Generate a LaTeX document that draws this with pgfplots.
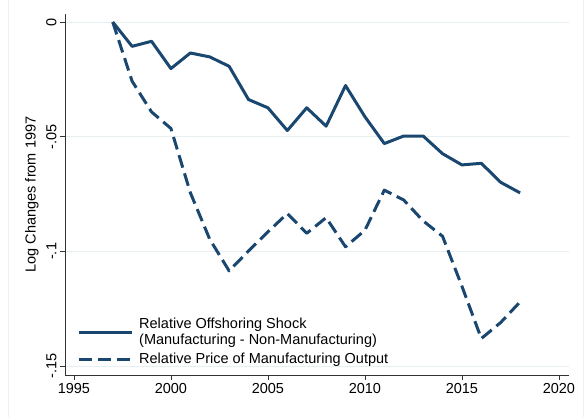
\documentclass[border=0pt]{standalone}
\usepackage{pgfplots}
\pgfplotsset{compat=1.18}
\usepackage{pgfplotstable}
\usepackage{fontspec}
\setmainfont{Liberation Sans}
\definecolor{navy}{RGB}{26,71,111}
\definecolor{gridc}{RGB}{232,239,241}
\pgfplotstableread{
year shock price
1997 0 0
1998 -0.0106 -0.0258
1999 -0.0084 -0.0392
2000 -0.0203 -0.0464
2001 -0.0135 -0.0744
2002 -0.0152 -0.0947
2003 -0.0193 -0.1085
2004 -0.0338 -0.0998
2005 -0.0374 -0.0915
2006 -0.0473 -0.0835
2007 -0.0374 -0.0921
2008 -0.0454 -0.0853
2009 -0.0277 -0.0980
2010 -0.0413 -0.0908
2011 -0.0530 -0.0733
2012 -0.0497 -0.0776
2013 -0.0497 -0.0867
2014 -0.0574 -0.0934
2015 -0.0623 -0.1152
2016 -0.0616 -0.1380
2017 -0.0699 -0.1310
2018 -0.0745 -0.1220
}\datatable
\begin{document}
\begin{tikzpicture}
\path[use as bounding box] (0pt,0pt) rectangle (585pt,417pt);
\draw[gray!12, line width=0.8pt] (8pt,0pt) -- (8pt,417pt);
\draw[gray!12, line width=0.8pt] (583pt,0pt) -- (583pt,417pt);
\begin{axis}[
  at={(65pt,42pt)}, anchor=south west,
  scale only axis, width=504pt, height=361pt,
  font=\fontsize{14.5}{16}\selectfont,
  xmin=1994.54, xmax=2020.52,
  ymin=-0.1539, ymax=0.0035,
  axis x line*=bottom, axis y line*=left,
  axis line style={black!80, line width=0.7pt, -},
  tick style={black!80, line width=0.7pt},
  tick align=outside, major tick length=5pt,
  xtick={1995,2000,2005,2010,2015,2020},
  xticklabels={1995,2000,2005,2010,2015,2020},
  ytick={-0.15,-0.1,-0.05,0},
  yticklabels={-.15,-.1,-.05,0},
  yticklabel style={rotate=90, anchor=south},
  /pgf/number format/assume math mode=true,
  ymajorgrids, major grid style={gridc, line width=0.9pt},
  ylabel={Log Changes from 1997},
  ylabel style={at={(axis description cs:-0.0655,0.5)}, anchor=center, rotate=0},
  legend style={draw=none, fill=none, inner sep=0pt,
    at={(axis description cs:0.0238,0.163)}, anchor=north west,
    row sep=3pt,
    cells={anchor=west, align=left},
    font=\fontsize{14.5}{16}\selectfont},
  legend image code/.code={\draw[#1] (0pt,0pt) -- (53pt,0pt); \path (57pt,0pt);},
]
\addplot[navy, line width=3pt, line join=round] table[x=year, y=shock] {\datatable};
\addlegendentry{Relative Offshoring Shock\\(Manufacturing - Non-Manufacturing)}
\addplot[navy, line width=3pt, line join=round, dash pattern=on 13pt off 6pt] table[x=year, y=price] {\datatable};
\addlegendentry{Relative Price of Manufacturing Output}
\end{axis}
\end{tikzpicture}
\end{document}
